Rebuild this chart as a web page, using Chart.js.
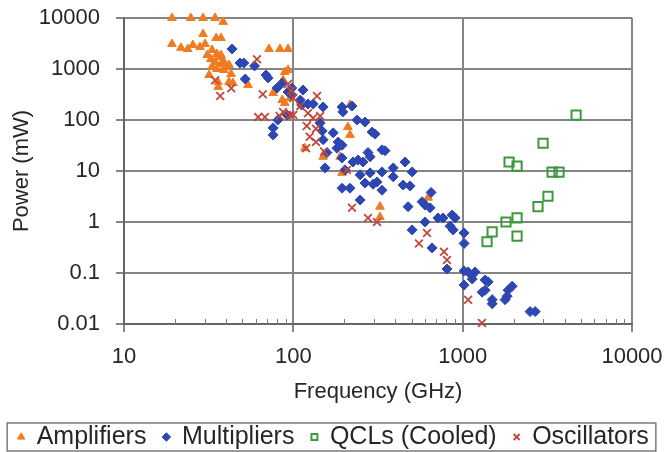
<!DOCTYPE html>
<html>
<head>
<meta charset="utf-8">
<script src="https://cdn.jsdelivr.net/npm/chart.js@4.4.0/dist/chart.umd.min.js"></script>
<style>
  html, body { margin: 0; padding: 0; background: #fff; }
</style>
</head>
<body>
<canvas id="chart" width="667" height="452"></canvas>
<script>
// tick values (decades only)
const xTicks = [10, 100, 1000, 10000];
const yTicks = [0.01, 0.1, 1, 10, 100, 1000, 10000];

// Amplifiers: frequency (GHz), power (mW)
const ampFreq = [19.2, 24.8, 29.3, 34.5, 38.5, 29.3, 35, 37.4, 19.2, 21.7, 23.8, 25.5, 28.1, 30.1, 31,
  32.6, 35.4, 37.4, 33.1, 34.5, 37.4, 38.9, 33.1, 35.4, 38.9, 41.7, 31.8, 42.9, 41.7, 35.9,
  71.8, 83.4, 93, 54, 76, 89, 93, 87, 89, 96, 86, 216, 210, 216, 117, 150, 189, 194, 325, 325, 625,
  36, 44, 37, 39.5];
const ampPower = [10000, 10000, 10000, 10000, 8400, 4850, 4050, 4050, 3100, 2600, 2470, 2960, 2700, 3100, 1880,
  1570, 1970, 1880, 2360, 1370, 1250, 1370, 1100, 1000, 955, 1200, 762, 800, 556, 556,
  2470, 2470, 2470, 485, 338, 873, 955, 608, 215, 269, 246, 197, 73, 51, 28, 19, 19, 9.2, 2.0, 1.25, 3.0,
  443, 530, 1720, 1100];

// Multipliers
const multFreq = [43.5, 48.4, 51, 59, 52, 69, 71, 86, 80, 98, 93, 114, 98, 110, 112, 122, 131, 150, 194, 196,
  222, 238, 265, 292, 304, 81, 92, 76, 76, 144, 148, 172, 150, 184, 194, 181, 158, 154, 194, 225,
  241, 276, 284, 334, 348, 258, 202, 194, 216, 248, 284, 334, 389, 265, 312, 334, 389, 457, 503, 445,
  489, 651, 576, 599, 642, 476, 248, 715, 766, 867, 902, 599, 843, 878, 503, 1020, 1020, 660, 808, 1020,
  1077, 1138, 1184, 1138, 1020, 1357, 1414, 1357, 1303, 1494, 1494, 1960, 1854, 1830, 1780, 2500, 2680, 296];
const multPower = [2470, 1310, 1310, 1150, 636, 762, 668, 531, 423, 423, 354, 387, 309, 246, 197, 206, 206, 180, 180, 144,
  188, 100, 91, 58, 53, 100, 125, 70, 51, 87, 61, 56, 41, 37, 32, 28, 23, 11.5, 18, 15,
  16.4, 23, 19, 26, 25, 15, 10.5, 4.6, 4.6, 8.4, 9.2, 9.6, 11.5, 5.8, 6.1, 4.2, 7.7, 15, 9.6, 5.3,
  5.1, 3.8, 2.5, 2.15, 1.9, 2.0, 2.7, 1.2, 1.2, 1.37, 1.2, 1.0, 0.83, 0.70, 0.70, 0.61, 0.38, 0.31, 0.12, 0.11,
  0.105, 0.091, 0.105, 0.076, 0.058, 0.073, 0.067, 0.046, 0.042, 0.030, 0.025, 0.055, 0.046, 0.035, 0.030, 0.0175, 0.0175, 5.5];

// QCLs (Cooled)
const qclFreq = [4677, 2985, 1880, 2095, 3375, 3707, 3190, 2786, 1803, 2095, 1493, 2095, 1393];
const qclPower = [125, 35, 15, 12.5, 9.5, 9.5, 3.2, 2.0, 1.0, 1.2, 0.64, 0.53, 0.41];

// Oscillators
const oscFreq = [34.5, 43, 37, 61, 66, 93, 97, 100, 138, 62, 68, 83, 100, 110, 122, 131, 144, 120, 136, 125,
  119, 136, 152, 207, 222, 276, 312, 616, 552, 776, 808, 1077, 1300, 87, 96];
const oscPower = [600, 420, 295, 1550, 320, 510, 370, 270, 295, 114, 114, 120, 125, 188, 136, 109, 120, 76, 67, 47,
  28, 37, 24, 10.5, 1.9, 1.2, 1.0, 0.61, 0.38, 0.26, 0.18, 0.030, 0.0105, 144, 125];

const FONT = '"Liberation Sans", Arial, sans-serif';
const TEXT = '#262626';
const GRID = '#858585';

function pts(fs, ps) {
  return fs.map((f, i) => ({ x: f, y: ps[i] }));
}

// small tick marks inside the bottom axis (2..9 of each decade)
const minorTicks = {
  id: 'minorTicks',
  beforeDatasetsDraw(chart) {
    const xs = chart.scales.x;
    const ctx = chart.ctx;
    const bottom = chart.chartArea.bottom;
    ctx.save();
    ctx.strokeStyle = '#7a7a7a';
    ctx.lineWidth = 1;
    ctx.beginPath();
    for (let d = 10; d < 10000; d *= 10) {
      for (let m = 2; m <= 9; m++) {
        const px = Math.round(xs.getPixelForValue(d * m)) + 0.5;
        ctx.moveTo(px, bottom);
        ctx.lineTo(px, bottom - 5);
      }
    }
    ctx.stroke();
    ctx.restore();
  }
};

// frame around the legend
const legendBox = {
  id: 'legendBox',
  afterDraw(chart) {
    const boxes = chart.legend.legendHitBoxes;
    if (!boxes || !boxes.length) return;
    const first = boxes[0];
    const last = boxes[boxes.length - 1];
    const l = first.left - 11;
    const r = last.left + last.width + 7;
    const cy = first.top + first.height / 2;
    const ctx = chart.ctx;
    ctx.save();
    ctx.strokeStyle = '#7a7a7a';
    ctx.lineWidth = 1.5;
    ctx.strokeRect(l, cy - 14, r - l, 28);
    ctx.restore();
  }
};

// fixed axis size; label overhang must not push the plot area
function fixSize(key, size) {
  return s => {
    s[key] = size;
    s.paddingTop = 0;
    s.paddingBottom = 0;
    s.paddingLeft = 0;
    s.paddingRight = 0;
  };
}

function axisStyle(ticks, min, max) {
  return {
    type: 'logarithmic',
    min: min,
    max: max,
    afterBuildTicks: s => { s.ticks = ticks.map(v => ({ value: v })); },
    grid: { color: GRID, lineWidth: 2, tickLength: 8, tickColor: GRID },
    border: { color: '#666', width: 2 },
    ticks: {
      autoSkip: false,
      maxRotation: 0,
      color: TEXT,
      font: { family: FONT, size: 22 },
      callback: v => String(v)
    }
  };
}

const xAxis = axisStyle(xTicks, 10, 10000);
xAxis.afterFit = fixSize('height', 83.5);
xAxis.ticks.padding = 12;
xAxis.title = { display: true, text: 'Frequency (GHz)', color: TEXT, font: { family: FONT, size: 22 }, padding: { top: 0, bottom: 2 } };

const yAxis = axisStyle(yTicks, 0.01, 10000);
yAxis.afterFit = fixSize('width', 124);
yAxis.ticks.padding = 16;
yAxis.title = { display: true, text: 'Power (mW)', color: TEXT, font: { family: FONT, size: 22 }, padding: { top: 9, bottom: 0 } };

// empty right-hand axis that only reserves the space right of the plot
const spacer = {
  type: 'linear',
  position: 'right',
  afterFit: fixSize('width', 35),
  grid: { display: false, drawTicks: false },
  border: { display: false },
  ticks: { display: false }
};

new Chart(document.getElementById('chart'), {
  type: 'scatter',
  data: {
    datasets: [
      {
        label: 'Amplifiers',
        data: pts(ampFreq, ampPower),
        pointStyle: 'triangle',
        pointRadius: 5,
        backgroundColor: '#F07C22',
        borderColor: '#F07C22',
        borderWidth: 1,
        order: 4,
        clip: false
      },
      {
        label: 'Multipliers',
        data: pts(multFreq, multPower),
        pointStyle: 'rectRot',
        pointRadius: 5,
        backgroundColor: '#2D47B2',
        borderColor: '#2D47B2',
        borderWidth: 1,
        order: 3,
        clip: false
      },
      {
        label: 'QCLs (Cooled)',
        data: pts(qclFreq, qclPower),
        pointStyle: 'rect',
        pointRadius: 6.5,
        backgroundColor: 'rgba(0,0,0,0)',
        borderColor: '#3C9A3C',
        borderWidth: 2,
        order: 2,
        clip: false
      },
      {
        label: 'Oscillators',
        data: pts(oscFreq, oscPower),
        pointStyle: 'crossRot',
        pointRadius: 5.5,
        backgroundColor: '#C2473A',
        borderColor: '#C2473A',
        borderWidth: 1.8,
        order: 1,
        clip: false
      }
    ]
  },
  options: {
    responsive: false,
    animation: false,
    events: [],
    layout: { autoPadding: false, padding: { left: 0, right: 0, top: 18, bottom: -7.5 } },
    scales: { x: xAxis, y: yAxis, yr: spacer },
    plugins: {
      tooltip: { enabled: false },
      legend: {
        position: 'bottom',
        labels: {
          usePointStyle: true,
          boxWidth: 6,
          boxHeight: 6,
          padding: 17,
          color: TEXT,
          font: { family: FONT, size: 25 },
          sort: (a, b) => a.datasetIndex - b.datasetIndex
        }
      }
    }
  },
  plugins: [minorTicks, legendBox]
});
</script>
</body>
</html>
